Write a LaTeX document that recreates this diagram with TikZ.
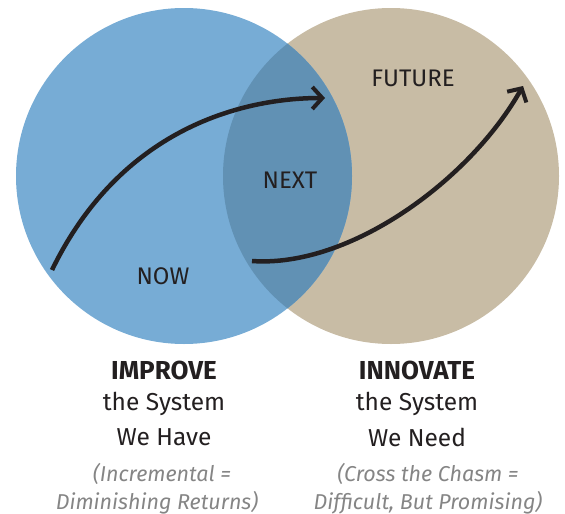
\documentclass[tikz,border=0pt]{standalone}
\usepackage{fontspec}
\usepackage{xcolor}
\usepackage{tikz}
\usetikzlibrary{arrows.meta}
\newfontfamily\vennfont{Fira Sans}

\definecolor{nowblue}{HTML}{77ACD5}
\definecolor{futuretan}{HTML}{C8BCA5}
\definecolor{nextblue}{HTML}{6191B4}
\definecolor{inkdark}{HTML}{231F20}
\definecolor{notegray}{HTML}{858585}

\tikzset{
  region/.style={font=\vennfont\fontsize{24}{28}\selectfont, text=inkdark},
  headline/.style={font=\vennfont\bfseries\fontsize{26}{30}\selectfont, text=inkdark},
  subline/.style={font=\vennfont\fontsize{24.5}{28}\selectfont, text=inkdark},
  noteline/.style={font=\vennfont\itshape\fontsize{21.5}{25}\selectfont, text=notegray},
  path arrow/.style={line width=4.5pt, draw=inkdark,
    -{Straight Barb[length=10pt,width=22pt,line width=4pt]}}
}

\begin{document}
\begin{tikzpicture}[x=1pt,y=-1pt]
      \useasboundingbox (0,0) rectangle (565,514);

      %%%%%%%%%%%%%%%%%%%%%%%%%%%%%%%%%%%%%%%%%%%%%%%%%%%%%%%%%%%%%%%%%%%%%%%%%%
      %%% BEGIN: CIRCLES.
      %%%%%%%%%%%%%%%%%%%%%%%%%%%%%%%%%%%%%%%%%%%%%%%%%%%%%%%%%%%%%%%%%%%%%%%%%%
      \coordinate (nowc) at (184,176);
      \coordinate (futc) at (391,176);
      \fill[futuretan] (futc) circle [radius=168pt];
      \fill[nowblue] (nowc) circle [radius=168pt];
      % Overlap.
      \begin{scope}
        \clip (nowc) circle [radius=168pt];
        \fill[nextblue] (futc) circle [radius=168pt];
      \end{scope}
      %%%%%%%%%%%%%%%%%%%%%%%%%%%%%%%%%%%%%%%%%%%%%%%%%%%%%%%%%%%%%%%%%%%%%%%%%%
      %%% END: CIRCLES.
      %%%%%%%%%%%%%%%%%%%%%%%%%%%%%%%%%%%%%%%%%%%%%%%%%%%%%%%%%%%%%%%%%%%%%%%%%%

      % Region labels.
      \node[region] (now) at (163,276) {NOW};
      \node[region] (next) at (290,180) {NEXT};
      \node[region] (future) at (413,78) {FUTURE};

      % Arrows.
      \coordinate (a1s) at (52,270);
      \coordinate (a1e) at (325,98);
      \coordinate (a2s) at (252,261);
      \coordinate (a2e) at (523,86);
      \draw[path arrow] (a1s) .. controls (120,130) and (240,98) .. (a1e);
      \draw[path arrow] (a2s) .. controls (350,268) and (470,180) .. (a2e);

      %%%%%%%%%%%%%%%%%%%%%%%%%%%%%%%%%%%%%%%%%%%%%%%%%%%%%%%%%%%%%%%%%%%%%%%%%%
      %%% BEGIN: CAPTIONS.
      %%%%%%%%%%%%%%%%%%%%%%%%%%%%%%%%%%%%%%%%%%%%%%%%%%%%%%%%%%%%%%%%%%%%%%%%%%
      % Left caption.
      \node[headline] (improve) at (164,370) {IMPROVE};
      \node[subline] (haveA) at (164,404) {the System};
      \node[subline] (haveB) at (164,437) {We Have};
      \node[noteline] (incrA) at (162,474) {(Incremental =};
      \node[noteline] (incrB) at (157,503) {Diminishing Returns)};

      % Right caption.
      \node[headline] (innovate) at (417,370) {INNOVATE};
      \node[subline] (needA) at (417,404) {the System};
      \node[subline] (needB) at (417,437) {We Need};
      \node[noteline] (chasmA) at (428,474) {(Cross the Chasm =};
      \node[noteline] (chasmB) at (428,503) {Difficult, But Promising)};
      %%%%%%%%%%%%%%%%%%%%%%%%%%%%%%%%%%%%%%%%%%%%%%%%%%%%%%%%%%%%%%%%%%%%%%%%%%
      %%% END: CAPTIONS.
      %%%%%%%%%%%%%%%%%%%%%%%%%%%%%%%%%%%%%%%%%%%%%%%%%%%%%%%%%%%%%%%%%%%%%%%%%%
\end{tikzpicture}
\end{document}
